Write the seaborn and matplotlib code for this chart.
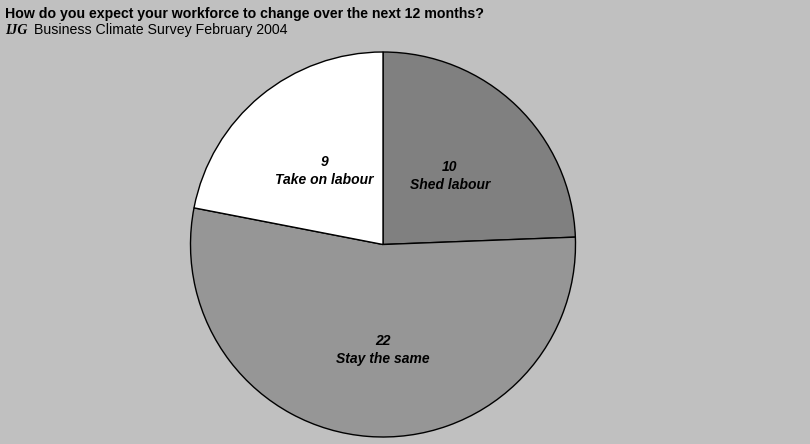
import matplotlib
matplotlib.use("Agg")
import matplotlib.pyplot as plt
import seaborn as sns

categories = ["Shed labour", "Stay the same", "Take on labour"]
values = [10, 22, 9]
colors = ["#808080", "#969696", "#ffffff"]

sns.set_theme(style="white")
plt.rcParams['font.family'] = ['Liberation Sans', 'DejaVu Sans']
plt.rcParams['text.color'] = 'black'

fig = plt.figure(figsize=(8.1, 4.44), dpi=100)
fig.patch.set_facecolor("#c0c0c0")

R = 192.5
cx, cy = 383, 244.5
ax = fig.add_axes([(cx - R) / 810, (444 - cy - R) / 444, 2 * R / 810, 2 * R / 444])
ax.set_facecolor("#c0c0c0")
ax.axis("off")

wedges, _ = ax.pie(values, colors=colors, startangle=90, counterclock=False,
                   radius=1, wedgeprops=dict(edgecolor="black", linewidth=1))
ax.set_xlim(-1, 1)
ax.set_ylim(-1, 1)
ax.set_aspect("equal")

label_pos = [(0.348, 0.358), (0.0, -0.55), (-0.306, 0.384)]
for cat, v, (x, y) in zip(categories, values, label_pos):
    ax.text(x, y, f"{v}\n{cat}", ha="center", va="center", fontsize=10,
            fontweight="bold", fontstyle="italic", linespacing=1.35, color="black")

fig.text(5 / 810, 1 - 14 / 444, "How do you expect your workforce to change over the next 12 months?",
         fontsize=10.2, fontweight="bold", va="center", ha="left", color="black")
fig.text(5 / 810, 1 - 30 / 444, "IJG", fontsize=10, fontweight="bold", fontstyle="italic",
         family=["Liberation Serif", "DejaVu Serif"], va="center", ha="left", color="black")
fig.text(34 / 810, 1 - 30 / 444, "Business Climate Survey February 2004",
         fontsize=10.2, va="center", ha="left", color="black")

fig.savefig("out.png", dpi=100, facecolor=fig.get_facecolor())
